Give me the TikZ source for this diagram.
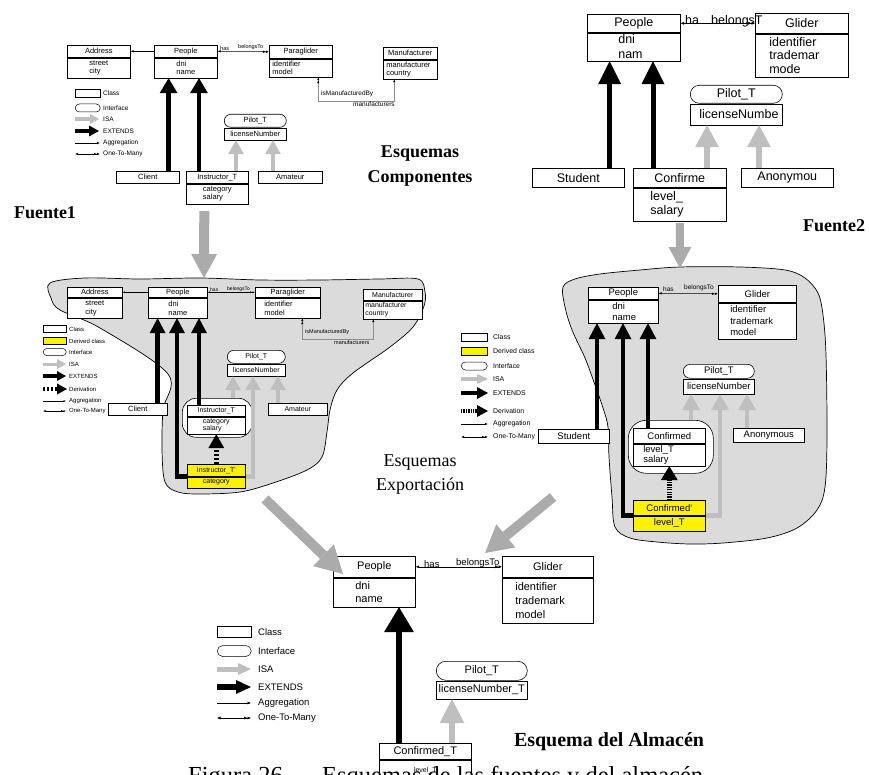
\documentclass[tikz,border=0pt]{standalone}
\usepackage{fontspec}
\setmainfont{Liberation Serif}
\newfontfamily\hlv{Liberation Sans}
\usetikzlibrary{arrows.meta}

\tikzset{
  fs/.style 2 args={font=\hlv\fontsize{#1}{#2}\selectfont},
  cls/.style={draw, fill=white, line width=0.6pt, inner sep=0pt, anchor=north west},
  ifc/.style={cls, rounded corners=#1},
  der/.style={fill=yellow},
  bodyl/.style 2 args={minimum width=#1, text width={#1-2*#2}, inner xsep=#2, align=left},
  wrap/.style={cls, rounded corners=#1},
  blob/.style={draw=black, line width=0.7pt, fill=black!14},
  ext/.style n args={3}{draw=black, line width=#1, -{Triangle[length=#2, width=#3, line width=0pt]}},
  isa/.style n args={3}{draw=black!25, line width=#1, -{Triangle[length=#2, width=#3, line width=0pt]}},
  drv/.style n args={3}{draw=black, line width=#1, dash pattern=on 2.4pt off 1.6pt, -{Triangle[length=#2, width=#3, line width=0pt]}},
  drvdot/.style n args={3}{draw=black, line width=#1, dash pattern=on 1.3pt off 1.1pt, -{Triangle[length=#2, width=#3, line width=0pt]}},
  big/.style n args={3}{draw=black!33, line width=#1, -{Triangle[length=#2, width=#3, line width=0pt]}},
  agg/.style 2 args={draw=black, line width=0.5pt, -{Latex[length=#1, width=#2]}},
  otm/.style 2 args={draw=black, line width=0.5pt, {Latex[length=#1, width=#2]}-{Latex[length=#1, width=#2] Latex[length=#1, width=#2]}},
  mto/.style={draw=black!45, line width=0.5pt, {Latex[length=3pt, width=2.4pt, color=black] Latex[length=3pt, width=2.4pt, color=black]}-{Latex[length=3pt, width=2.4pt, color=black]}},
  lbl/.style={inner sep=0pt},
  lclass/.style={draw, fill=white, line width=0.5pt, minimum height=#1},
  lderiv/.style={draw, fill=yellow, line width=0.5pt, minimum height=#1},
  liface/.style={draw, fill=white, line width=0.5pt, minimum height=#1, rounded corners=#1/2},
}

% vertical connector from a shifted anchor straight to the level of a target anchor
\newcommand\upar[4]{%
  \coordinate (ua) at ([xshift=#3]#2);
  \draw[#1] (ua) -- (ua |- #4);}

% legend rows: a sample (box or line) followed by its label
\newcommand\lgbox[8]{%
  \node[lbl, fs={#6}{#6}, anchor=west] (#1) at (#4,#5) {#8};
  \node[#7, inner sep=0pt, minimum width={#3-#2}, anchor=west] (#1s) at (#2,#5) {};}
\newcommand\lgline[8]{%
  \node[lbl, fs={#6}{#6}, anchor=west] (#1) at (#4,#5) {#8};
  \coordinate (#1p) at (#2,#5); \coordinate (#1q) at (#3,#5);
  \draw[#7] (#1p) -- (#1q);}

\begin{document}
\begin{tikzpicture}[x=1pt,y=-1pt]
\useasboundingbox (0,0) rectangle (869,775);
\clip (0,0) rectangle (869,775);
\fill[white] (0,0) rectangle (869,775);

% ---------------- export schema regions ----------------
\draw[blob] plot[smooth cycle, tension=0.55] coordinates {
  (50,283) (85,278) (140,279) (200,278) (260,280) (320,280) (380,279) (418,279)
  (425,292) (424,306) (413,327) (390,347) (353,373) (337,390) (330,410) (327,432)
  (322,457) (307,470) (273,483) (240,492) (200,494) (178,492) (165,482) (162,450)
  (163,410) (168,374) (100,328) (60,310) (51,298)};
\draw[blob] plot[smooth cycle, tension=0.55] coordinates {
  (563,287) (575,279) (600,274) (640,270) (680,267) (740,267) (785,270) (805,278)
  (818,293) (823,315) (826,355) (827,437) (825,487) (817,510) (797,528) (767,538)
  (723,543) (690,544) (657,542) (630,538) (615,527) (612,497) (609,457) (608,427)
  (603,408) (595,385) (585,358) (572,330) (565,307)};
\coordinate (blobLtop) at (204,278);
\coordinate (blobRtop) at (680,268);
\coordinate (blobLbot) at (265,499);
\coordinate (blobRbot) at (553,497);

% ---------------- Fuente1: component schemas ----------------
\node[cls, fs={7.5}{8.5}, minimum width=63, minimum height=12] (addr1) at (67,45) {Address};
\node[cls, fs={7.5}{8.5}, minimum width=63, minimum height=20, align=left] (addr1b) at (addr1.south west) {street\\city};
\node[cls, fs={7.5}{8.5}, minimum width=63, minimum height=12] (ppl1) at (154,45) {People};
\node[cls, fs={7.5}{8.5}, minimum width=63, minimum height=20, align=left] (ppl1b) at (ppl1.south west) {dni\\name};
\node[cls, fs={7.5}{8.5}, minimum width=63, minimum height=13] (para1) at (269,45) {Paraglider};
\node[cls, fs={7.5}{8.5}, bodyl={63}{3}, minimum height=18] (para1b) at (para1.south west) {identifier\\model};
\node[cls, fs={7.5}{8.5}, minimum width=54, minimum height=12] (manu1) at (383,47) {Manufacturer};
\node[cls, fs={7.5}{8.5}, bodyl={54}{3}, minimum height=19] (manu1b) at (manu1.south west) {manufacturer\\country};
\node[ifc=6.5, fs={7.5}{8.5}, minimum width=62, minimum height=13] (pilot1) at (224,114) {Pilot\_T};
\node[cls, fs={7.5}{8.5}, minimum width=62, minimum height=12] (pilot1b) at (pilot1.south west) {licenseNumber};
\node[cls, fs={7.5}{8.5}, minimum width=63, minimum height=12] (client1) at (116,171) {Client};
\node[cls, fs={7.5}{8.5}, minimum width=62, minimum height=12] (instr1) at (186,171) {Instructor\_T};
\node[cls, fs={7.5}{8.5}, minimum width=62, minimum height=20, align=left] (instr1b) at (instr1.south west) {category\\salary};
\node[cls, fs={7.5}{8.5}, minimum width=64, minimum height=12] (amat1) at (258,171) {Amateur};

\draw[agg={3pt}{2.4pt}] (ppl1.west) -- (addr1.east);
\draw[otm={3pt}{2.4pt}] (ppl1.east) -- (para1.west);
\node[lbl, fs={5.5}{6}, anchor=west] (has1) at (220,49) {has};
\node[lbl, fs={5.5}{6}, anchor=west] (bel1) at (238,47) {belongsTo};
\coordinate (mf1) at ([xshift=-16pt]manu1b.south);
\draw[mto] ([xshift=17.5pt]para1b.south) -- ++(0,24) -| (mf1);
\node[lbl, fs={6.5}{7}, anchor=west] (ism1) at (321,94) {isManufacturedBy};
\node[lbl, fs={6.5}{7}, anchor=west] (mfs1) at (353,104) {manufacturers};

\upar{ext={4.5pt}{15pt}{18pt}}{client1.north east}{-11pt}{ppl1b.south}
\upar{ext={4.5pt}{15pt}{18pt}}{instr1.north west}{13pt}{ppl1b.south}
\upar{isa={4.5pt}{14pt}{16pt}}{instr1.north west}{50pt}{pilot1b.south}
\upar{isa={4.5pt}{14pt}{16pt}}{amat1.north west}{15pt}{pilot1b.south}

\lgbox{lgA1}{75}{100}{103}{93}{6.5}{lclass=8}{Class}
\lgbox{lgA2}{75}{100}{103}{108}{6.5}{liface=8}{Interface}
\lgline{lgA3}{75}{99}{103}{119}{6.5}{isa={3.5pt}{9pt}{10pt}}{ISA}
\lgline{lgA4}{75}{99}{103}{131}{6.5}{ext={4pt}{10pt}{11pt}}{EXTENDS}
\lgline{lgA5}{75}{100}{103}{143}{6.5}{agg={3pt}{2.4pt}}{Aggregation}
\lgline{lgA6}{75}{100}{103}{154}{6.5}{otm={3pt}{2.4pt}}{One-To-Many}

% ---------------- Fuente2: component schemas ----------------
\node[cls, fs={12.5}{13.5}, minimum width=93, minimum height=18] (ppl2) at (587,14) {People};
\node[cls, fs={12.5}{15}, bodyl={93}{31}, minimum height=28] (ppl2b) at (ppl2.south west) {dni\\nam};
\node[cls, fs={12.5}{13.5}, minimum width=93, minimum height=20] (glid2) at (755,13) {Glider};
\node[cls, fs={12.5}{13.5}, bodyl={93}{14}, minimum height=43] (glid2b) at (glid2.south west) {identifier\\trademar\\mode};
\node[ifc=9, fs={12.5}{13.5}, minimum width=92, minimum height=18] (pilot2) at (690,85) {Pilot\_T};
\node[cls, fs={12.5}{13.5}, bodyl={92}{9}, minimum height=21] (pilot2b) at (pilot2.south west) {licenseNumbe};
\node[cls, fs={12.5}{13.5}, minimum width=92, minimum height=19] (stud2) at (532,168) {Student};
\node[cls, fs={12.5}{13.5}, minimum width=93, minimum height=19] (conf2) at (633,168) {Confirme};
\node[cls, fs={12.5}{13.5}, bodyl={93}{17}, minimum height=33] (conf2b) at (conf2.south west) {level\_\\salary};
\node[cls, fs={12.5}{13.5}, minimum width=92, minimum height=19] (anon2) at (741,168) {Anonymou};

\draw[otm={3.5pt}{3pt}] (ppl2.east) -- (glid2.west);
\node[lbl, fs={12.5}{13}, anchor=base west] (has2) at (685,25) {ha};
\node[lbl, fs={12.5}{13}, anchor=base west] (bel2) at (711,25) {belongsT};

\upar{ext={5pt}{23pt}{23pt}}{stud2.north east}{-15pt}{ppl2b.south}
\upar{ext={5pt}{23pt}{23pt}}{conf2.north west}{20pt}{ppl2b.south}
\upar{isa={5.5pt}{22pt}{24pt}}{conf2.north west}{74pt}{pilot2b.south}
\upar{isa={5.5pt}{22pt}{24pt}}{anon2.north west}{18pt}{pilot2b.south}

% ---------------- export schema of Fuente1 ----------------
\node[wrap=14, minimum width=70, minimum height=39] (instr3o) at (182,398) {};
\node[cls, fs={7.5}{8.5}, minimum width=55, minimum height=10] (addr3) at (67,287) {Address};
\node[cls, fs={7.5}{9}, minimum width=55, minimum height=20, align=left] (addr3b) at (addr3.south west) {street\\city};
\node[cls, fs={7.5}{8.5}, minimum width=59, minimum height=10] (ppl3) at (148,287) {People};
\node[cls, fs={7.5}{9}, minimum width=59, minimum height=20, align=left] (ppl3b) at (ppl3.south west) {dni\\name};
\node[cls, fs={7.5}{8.5}, minimum width=65, minimum height=10] (para3) at (255,287) {Paraglider};
\node[cls, fs={7.5}{9}, bodyl={65}{9}, minimum height=20] (para3b) at (para3.south west) {identifier\\model};
\node[cls, fs={7}{8}, minimum width=59, minimum height=11] (manu3) at (363,289) {Manufacturer};
\node[cls, fs={7}{8}, bodyl={59}{2}, minimum height=18] (manu3b) at (manu3.south west) {manufacturer\\country};
\node[ifc=6.5, fs={7}{8}, minimum width=58, minimum height=13] (pilot3) at (227,350) {Pilot\_T};
\node[cls, fs={7}{8}, minimum width=58, minimum height=12] (pilot3b) at (pilot3.south west) {licenseNumber};
\node[cls, fs={7.5}{8.5}, minimum width=59, minimum height=12] (client3) at (108,403) {Client};
\node[cls, fs={7}{8}, minimum width=58, minimum height=11] (instr3) at (187,405) {Instructor\_T};
\node[cls, fs={7}{7.5}, minimum width=58, minimum height=17, align=left] (instr3b) at (instr3.south west) {category\\salary};
\node[cls, der, fs={7}{8}, minimum width=58, minimum height=12] (instr3d) at (187,464) {Instructor\_T'};
\node[cls, der, fs={7}{8}, minimum width=58, minimum height=11] (instr3db) at (instr3d.south west) {category};
\node[cls, fs={7}{8}, minimum width=59, minimum height=12] (amat3) at (268,403) {Amateur};

\draw[agg={2.5pt}{2pt}] (ppl3.west) -- (addr3.east);
\draw[otm={2.5pt}{2pt}] (ppl3.east) -- (para3.west);
\node[lbl, fs={5}{5}, anchor=west] (has3) at (210,290) {has};
\node[lbl, fs={5}{5}, anchor=west] (bel3) at (227,289) {belongsTo};
\coordinate (mf3) at ([xshift=-19.5pt]manu3b.south);
\draw[mto] ([xshift=14.5pt]para3b.south) -- ++(0,21) -| (mf3);
\node[lbl, fs={5.5}{6}, anchor=west] (ism3) at (305,332) {isManufacturedBy};
\node[lbl, fs={5.5}{6}, anchor=west] (mfs3) at (334,343) {manufacturers};

\upar{ext={4.5pt}{15pt}{16pt}}{client3.north east}{-10pt}{ppl3b.south}
\upar{ext={4.5pt}{15pt}{16pt}}{instr3.north west}{12pt}{ppl3b.south}
\coordinate (ub3) at ([xshift=29pt]ppl3b.south west);
\draw[ext={4.5pt}{15pt}{16pt}] (instr3d.south west) -| (ub3);
\upar{isa={4.5pt}{14pt}{16pt}}{instr3o.north west}{51pt}{pilot3b.south}
\coordinate (ui3) at ([xshift=26pt]pilot3b.south west);
\draw[isa={4.5pt}{14pt}{16pt}] (instr3d.south east) -| (ui3);
\upar{isa={4.5pt}{14pt}{16pt}}{amat3.north west}{10pt}{pilot3b.south}
\draw[drv={4.5pt}{14pt}{16pt}] (instr3d.north) -- (instr3b.south);

\lgbox{lgB1}{43}{66}{69}{329}{6}{lclass=7}{Class}
\lgbox{lgB2}{43}{66}{69}{341}{6}{lderiv=7}{Derived class}
\lgbox{lgB3}{43}{66}{69}{352}{6}{liface=7}{Interface}
\lgline{lgB4}{43}{66}{69}{364}{6}{isa={3pt}{9pt}{10pt}}{ISA}
\lgline{lgB5}{43}{66}{69}{376}{6}{ext={4pt}{9pt}{10pt}}{EXTENDS}
\lgline{lgB6}{43}{67}{69}{389}{6}{drv={3.5pt}{10pt}{11pt}}{Derivation}
\lgline{lgB7}{43}{66}{69}{401}{6}{agg={2.5pt}{2pt}}{Aggregation}
\lgline{lgB8}{43}{66}{69}{411}{6}{otm={2.5pt}{2pt}}{One-To-Many}

% ---------------- export schema of Fuente2 ----------------
\node[wrap=18, minimum width=85, minimum height=53] (conf4o) at (628,420) {};
\node[cls, fs={9.5}{11}, minimum width=70, minimum height=12] (ppl4) at (588,287) {People};
\node[cls, fs={9.5}{11}, bodyl={70}{24}, minimum height=23] (ppl4b) at (ppl4.south west) {dni\\name};
\node[cls, fs={9.5}{11.5}, minimum width=78, minimum height=17] (glid4) at (718,285) {Glider};
\node[cls, fs={9.5}{11.5}, bodyl={78}{12}, minimum height=36] (glid4b) at (glid4.south west) {identifier\\trademark\\model};
\node[ifc=7, fs={9.5}{11}, minimum width=71, minimum height=14] (pilot4) at (683,364) {Pilot\_T};
\node[cls, fs={9.5}{11}, minimum width=71, minimum height=15] (pilot4b) at (pilot4.south west) {licenseNumber};
\node[cls, fs={9.5}{11}, minimum width=71, minimum height=14] (stud4) at (538,429) {Student};
\node[cls, fs={9.5}{11}, minimum width=72, minimum height=15] (conf4) at (633,428) {Confirmed};
\node[cls, fs={9.5}{10.5}, bodyl={72}{10}, minimum height=22] (conf4b) at (conf4.south west) {level\_T\\salary};
\node[cls, der, fs={9.5}{11}, minimum width=72, minimum height=15] (conf4d) at (633,500) {Confirmed'};
\node[cls, der, fs={9.5}{11}, minimum width=72, minimum height=15] (conf4db) at (conf4d.south west) {level\_T};
\node[cls, fs={9.5}{11}, minimum width=71, minimum height=14] (anon4) at (733,428) {Anonymous};

\draw[otm={3pt}{2.4pt}] (ppl4.east) -- (glid4.west);
\node[lbl, fs={6.5}{7}, anchor=west] (has4) at (663,289) {has};
\node[lbl, fs={6.5}{7}, anchor=west] (bel4) at (684,288) {belongsTo};

\upar{ext={4.5pt}{16pt}{17pt}}{stud4.north west}{59pt}{ppl4b.south}
\upar{ext={4.5pt}{16pt}{17pt}}{conf4.north west}{15pt}{ppl4b.south}
\coordinate (ub4) at ([xshift=35pt]ppl4b.south west);
\draw[ext={4.5pt}{16pt}{17pt}] (conf4d.south west) -| (ub4);
\upar{isa={4.5pt}{16pt}{18pt}}{conf4o.north west}{63pt}{pilot4b.south}
\coordinate (ui4) at ([xshift=37pt]pilot4b.south west);
\draw[isa={4.5pt}{16pt}{18pt}] (conf4d.south east) -| (ui4);
\upar{isa={4.5pt}{16pt}{18pt}}{anon4.north west}{14pt}{pilot4b.south}
\draw[drvdot={4.5pt}{14pt}{17pt}] (conf4d.north) -- (conf4b.south);

\lgbox{lgC1}{461}{487}{493}{337}{6.9}{lclass=8}{Class}
\lgbox{lgC2}{461}{487}{493}{351}{6.9}{lderiv=8}{Derived class}
\lgbox{lgC3}{461}{487}{493}{366}{6.9}{liface=8}{Interface}
\lgline{lgC4}{461}{488}{493}{379}{6.9}{isa={3.5pt}{11pt}{10pt}}{ISA}
\lgline{lgC5}{461}{488}{493}{393}{6.9}{ext={4.5pt}{11pt}{12pt}}{EXTENDS}
\lgline{lgC6}{461}{488}{493}{411}{6.9}{drvdot={4pt}{11pt}{12pt}}{Derivation}
\lgline{lgC7}{461}{488}{493}{424}{6.9}{agg={3pt}{2.4pt}}{Aggregation}
\lgline{lgC8}{461}{488}{493}{437}{6.9}{otm={3pt}{2.4pt}}{One-To-Many}

% ---------------- warehouse schema ----------------
\node[cls, fs={11}{13}, minimum width=82, minimum height=21] (ppl5) at (333,556) {People};
\node[cls, fs={11}{13}, bodyl={82}{22}, minimum height=29] (ppl5b) at (ppl5.south west) {dni\\name};
\node[cls, fs={11}{14}, minimum width=91, minimum height=21] (glid5) at (502,556) {Glider};
\node[cls, fs={11}{14}, bodyl={91}{13}, minimum height=45] (glid5b) at (glid5.south west) {identifier\\trademark\\model};
\node[ifc=9.5, fs={11}{13}, minimum width=91, minimum height=19] (pilot5) at (436,661) {Pilot\_T};
\node[cls, fs={11}{13}, minimum width=91, minimum height=18] (pilot5b) at (pilot5.south west) {licenseNumber\_T};
\node[cls, fs={11}{13}, minimum width=92, minimum height=16] (conf5) at (379,743) {Confirmed\_T};
\node[cls, fs={7}{8}, minimum width=92, minimum height=22] (conf5b) at (conf5.south west) {level\_T};

\draw[otm={3.5pt}{3pt}] (ppl5.east) -- (glid5.west);
\node[lbl, fs={9.5}{10}, anchor=west] (has5) at (424,564) {has};
\node[lbl, fs={9.5}{10}, anchor=west] (bel5) at (456,563) {belongsTo};

\upar{ext={6pt}{25pt}{30pt}}{conf5.north west}{20pt}{ppl5b.south}
\upar{isa={5.5pt}{24pt}{25pt}}{conf5.north west}{73pt}{pilot5b.south}

\lgbox{lgD1}{217}{251}{258}{632}{9.5}{lclass=11}{Class}
\lgbox{lgD2}{217}{251}{258}{651}{9.5}{liface=11}{Interface}
\lgline{lgD3}{217}{251}{258}{669}{9.5}{isa={5pt}{13pt}{12pt}}{ISA}
\lgline{lgD4}{217}{251}{258}{687}{9.5}{ext={5.5pt}{15pt}{14pt}}{EXTENDS}
\lgline{lgD5}{217}{251}{258}{703}{9.5}{agg={3.5pt}{3pt}}{Aggregation}
\lgline{lgD6}{217}{251}{258}{718}{9.5}{otm={3.5pt}{3pt}}{One-To-Many}

% ---------------- flow between schemas ----------------
\draw[big={10pt}{24pt}{26pt}] ([xshift=-13pt,yshift=-7pt]instr1b.south) -- (blobLtop);
\draw[big={8pt}{21pt}{23pt}] ([yshift=-2pt]conf2b.south) -- (blobRtop);
\coordinate (whL) at (343,574);
\coordinate (whR) at (485,553);
\draw[big={10pt}{27pt}{30pt}] (blobLbot) -- (whL);
\draw[big={10pt}{27pt}{30pt}] (blobRbot) -- (whR);

% ---------------- titles ----------------
\node[font=\bfseries\fontsize{18}{25}\selectfont, align=center] (tComp) at (420,166) {Esquemas\\Componentes};
\node[font=\bfseries\fontsize{18}{20}\selectfont] (tF1) at (45,213) {Fuente1};
\node[font=\bfseries\fontsize{18}{20}\selectfont] (tF2) at (834,226) {Fuente2};
\node[font=\fontsize{18}{24}\selectfont, align=center] (tExp) at (420,475) {Esquemas\\Exportación};
\node[font=\bfseries\fontsize{20}{22}\selectfont] (tWh) at (609,742) {Esquema del Almacén};
\node[font=\fontsize{24.5}{26}\selectfont, anchor=base west, inner sep=0pt] (cap1) at (188,783) {Figura 26.};
\node[font=\fontsize{24.5}{26}\selectfont, anchor=base west, inner sep=0pt] (cap2) at (322,783) {Esquemas de las fuentes y del almacén};
\end{tikzpicture}
\end{document}
